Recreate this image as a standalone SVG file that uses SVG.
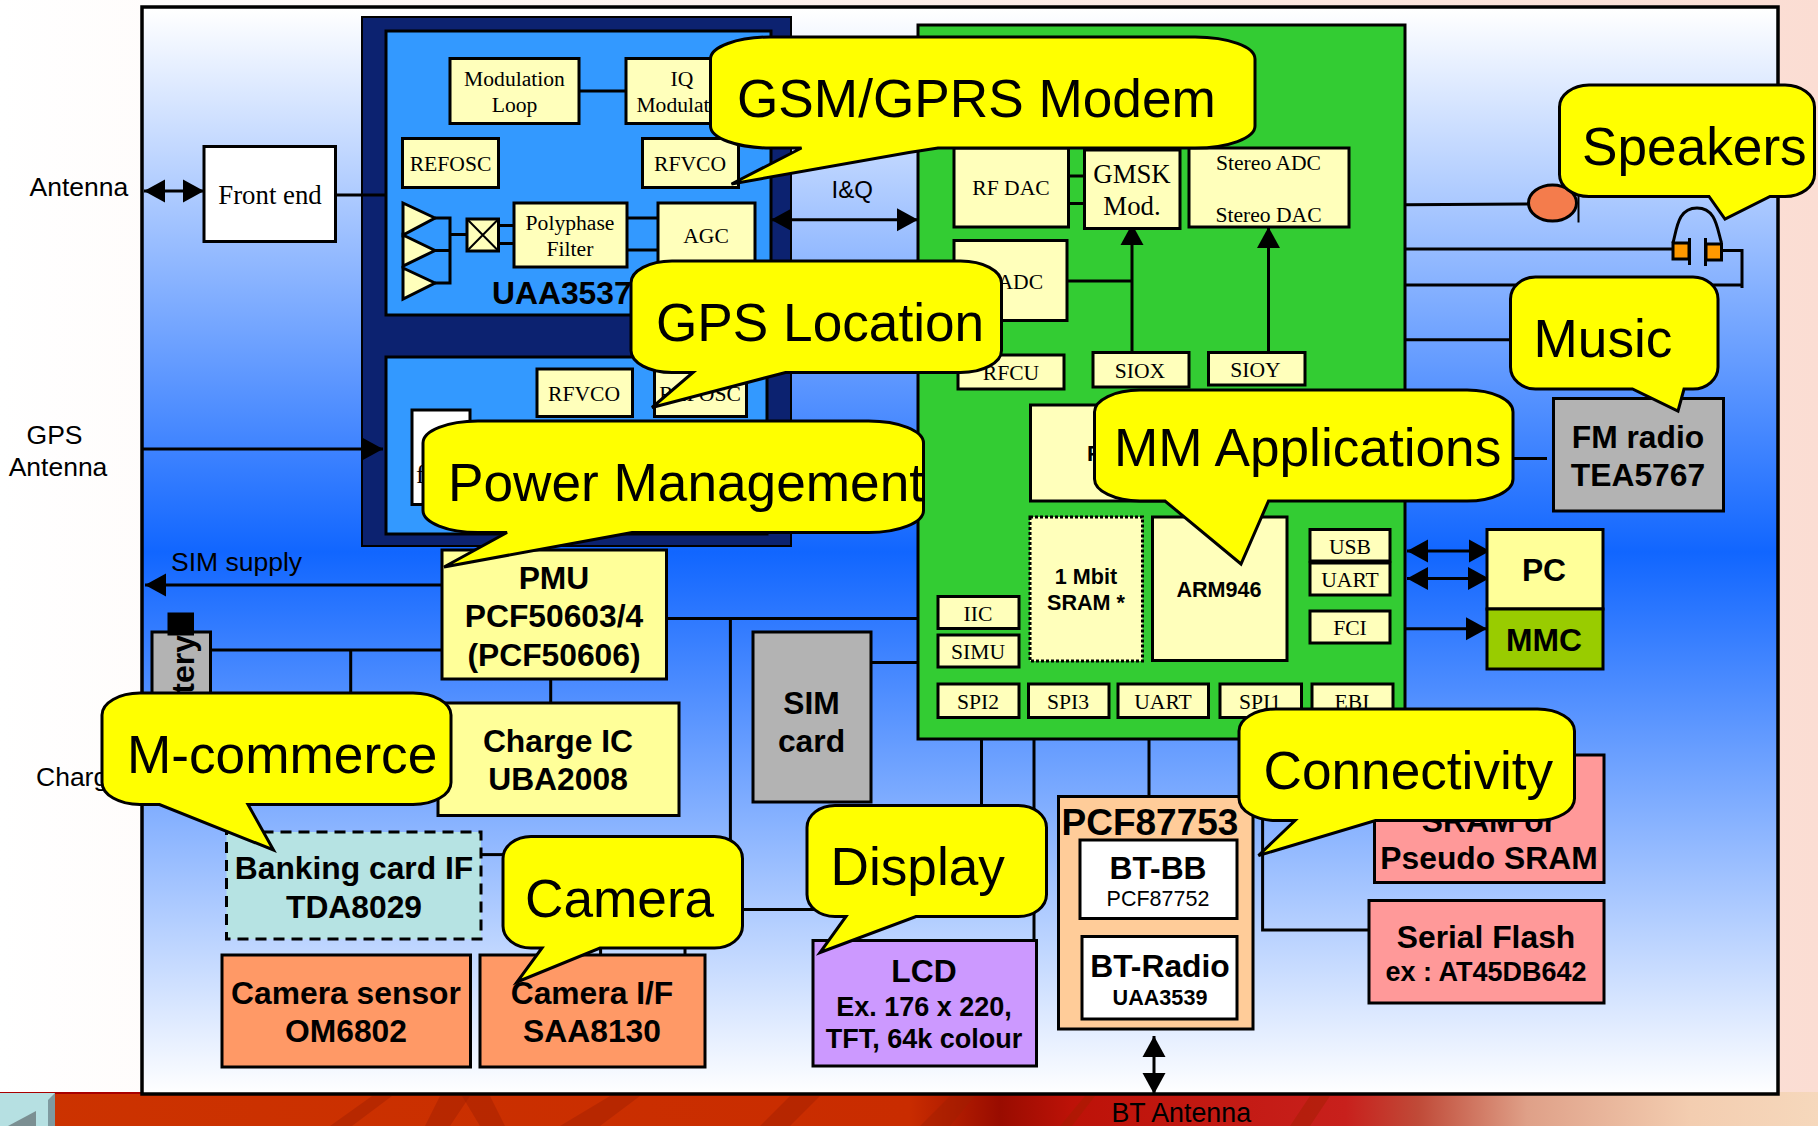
<svg xmlns="http://www.w3.org/2000/svg" width="1818" height="1126" viewBox="0 0 1818 1126">
<style>
.b{stroke:#000;stroke-width:3}
.cream{fill:#ffffbb}
.lem{fill:#ffff99}
.gr{fill:#b3b3b3}
.wh{fill:#fff}
.or{fill:#ff9966}
.pk{fill:#ff9999}
text{font-family:"Liberation Sans",Arial,sans-serif;fill:#000}
.t{font-family:"Liberation Serif","Times New Roman",serif;font-size:21.600px;text-anchor:middle}
.n{font-size:26.500px}
.h{font-weight:bold;font-size:31.800px;text-anchor:middle;transform:translateY(1px)}
.h2{font-weight:bold;font-size:27px;text-anchor:middle}
.h3{font-weight:bold;font-size:21.600px;text-anchor:middle}
.c{font-size:53.200px}
.bub{fill:#ffff00;stroke:#000;stroke-width:3}
#conn path,#conn line{fill:none;stroke:#000;stroke-width:3}
.ar{marker-end:url(#ah)}
.ar2{marker-end:url(#ah);marker-start:url(#ah)}
.st{fill:#a02000;opacity:.45}
</style>
<defs>
<marker id="ah" markerUnits="userSpaceOnUse" markerWidth="22" markerHeight="24" refX="21" refY="12" orient="auto-start-reverse"><polygon points="0,0.5 21,12 0,23.5" fill="#000"/></marker>
<linearGradient id="page" x1="0" y1="0" x2="1" y2="0"><stop offset="0" stop-color="#ffffff"/><stop offset="1" stop-color="#fbddd3"/></linearGradient>
<linearGradient id="fr" gradientUnits="userSpaceOnUse" x1="0" y1="10" x2="0" y2="1094"><stop offset="0" stop-color="#ffffff"/><stop offset="0.5" stop-color="#1166ff"/><stop offset="1" stop-color="#ffffff"/></linearGradient>
<linearGradient id="band" gradientUnits="userSpaceOnUse" x1="0" y1="0" x2="1818" y2="0"><stop offset="0" stop-color="#cc3300"/><stop offset="0.5" stop-color="#c92c00"/><stop offset="0.55" stop-color="#990c00"/><stop offset="0.59" stop-color="#bd1208"/><stop offset="0.74" stop-color="#c8201c"/><stop offset="0.78" stop-color="#c04a38"/><stop offset="0.84" stop-color="#dfa088"/><stop offset="0.93" stop-color="#f3cdb0"/><stop offset="1" stop-color="#f6d8bc"/></linearGradient>
</defs>

<g id="background">
<rect x="0" y="0" width="1818" height="1126" fill="url(#page)"/>
<rect x="0" y="1092" width="1818" height="34" fill="url(#band)"/>
<polygon class="st" points="330,1126 372,1096 392,1096 352,1126"/>
<polygon class="st" points="425,1126 440,1096 470,1096 450,1126"/>
<polygon class="st" points="480,1126 462,1096 490,1096 505,1126"/>
<polygon class="st" points="560,1126 610,1096 640,1096 600,1126"/>
<polygon class="st" points="760,1126 790,1096 820,1096 790,1126"/>
<polygon class="st" points="920,1126 950,1096 975,1096 950,1126"/>
<polygon class="st" points="1060,1126 1085,1096 1095,1096 1072,1126"/>
<polygon class="st" points="1290,1126 1310,1096 1330,1096 1310,1126"/>
<rect x="0" y="1092" width="142" height="2" fill="#a80000"/>
<rect x="0" y="1093" width="55" height="33" fill="#b6e0e2"/>
<polygon points="48,1100 55,1093 55,1126 48,1126" fill="#7e9aa0"/>
<polygon points="36,1111 8,1126 36,1126" fill="#7b8f92"/>
</g>
<rect id="frame" x="142" y="7" width="1636" height="1087" fill="url(#fr)" stroke="#000" stroke-width="3.500"/>

<g id="containers">
<rect id="rf-block" x="362" y="17" width="429" height="529" fill="#0c2270" stroke="#000" stroke-width="2"/>
<rect id="uaa-block" x="386" y="31" width="385" height="284" fill="#3399ff" class="b"/>
<rect id="gps-block" x="386" y="357" width="381" height="177" fill="#3399ff" class="b"/>
<rect id="baseband" x="918" y="25" width="487" height="714" fill="#33cc33" class="b"/>
</g>

<g id="conn">
<line x1="335" y1="195" x2="386" y2="195"/>
<line x1="579" y1="91" x2="626" y2="91"/>
<path d="M435 218H450V283H435M435 250.500H450M450 234.500H467"/>
<path d="M498 225.500H514M498 243.500H514M627 218H658M627 250H658"/>
<line class="ar2" x1="144" y1="191" x2="204" y2="191"/>
<line class="ar" x1="142" y1="449" x2="383" y2="449"/>
<line class="ar2" x1="771" y1="219.700" x2="918" y2="219.700"/>
<line x1="1068" y1="176" x2="1085" y2="176"/>
<line x1="1068" y1="203.500" x2="1085" y2="203.500"/>
<line class="ar" x1="1132" y1="352" x2="1132" y2="224"/>
<line class="ar" x1="1268.500" y1="352" x2="1268.500" y2="227"/>
<line x1="1067" y1="281" x2="1132" y2="281"/>
<line x1="1405" y1="204.700" x2="1530" y2="204"/>
<path d="M1405 249H1673M1722 250.500H1742V288M1405 285H1742"/>
<line x1="1405" y1="339.700" x2="1522" y2="339.700"/>
<line x1="1405" y1="458.500" x2="1547" y2="458.500"/>
<line class="ar2" x1="1407" y1="551" x2="1490" y2="551"/>
<line class="ar2" x1="1407" y1="578.400" x2="1489" y2="578.400"/>
<line class="ar" x1="1405" y1="628.700" x2="1487" y2="628.700"/>
<line class="ar" x1="442" y1="585" x2="145" y2="585"/>
<path d="M667 618.600H918M730.400 618.600V905M685 905V955M600.600 935V957"/>
<path d="M210 650H442M350.700 650V725"/>
<line x1="550.700" y1="679" x2="550.700" y2="703"/>
<line x1="481" y1="854.600" x2="510" y2="854.600"/>
<line x1="871" y1="662.500" x2="918" y2="662.500"/>
<line x1="735" y1="909.500" x2="820" y2="909.500"/>
<line x1="981.500" y1="739" x2="981.500" y2="815"/>
<line x1="1034" y1="739" x2="1034" y2="941"/>
<line x1="1149" y1="739" x2="1149" y2="797"/>
<line x1="1199" y1="918" x2="1199" y2="937"/>
<line class="ar2" x1="1154" y1="1036" x2="1154" y2="1094"/>
<path d="M1262.600 820V930H1369"/>
</g>

<g id="front-end"><rect class="b wh" x="204" y="146.500" width="131.500" height="95"/><text class="t" style="font-size:26.800px" x="270" y="204">Front end</text></g>
<text id="label-antenna" class="n" x="29.500" y="195.500">Antenna</text>
<text id="label-gps-antenna" class="n" text-anchor="middle"><tspan x="54.500" y="443.500">GPS</tspan><tspan x="58" y="476">Antenna</tspan></text>
<text id="label-iq" class="n" style="font-size:24px" x="831.500" y="197.500">I&amp;Q</text>
<text id="label-sim-supply" class="n" x="171" y="571">SIM supply</text>
<text id="label-charger" class="n" x="36" y="785.500">Charger</text>
<text id="label-bt-antenna" class="n" style="font-size:26.800px" x="1111.500" y="1122" fill="#200">BT Antenna</text>

<g id="mod-loop"><rect class="b cream" x="450" y="58.500" width="129" height="65"/><text class="t"><tspan x="514.500" y="86">Modulation</tspan><tspan x="514.500" y="112">Loop</tspan></text></g>
<g id="iq-mod"><rect class="b cream" x="626" y="58.500" width="112" height="65"/><text class="t"><tspan x="682" y="86">IQ</tspan><tspan x="682" y="112">Modulator</tspan></text></g>
<g id="refosc1"><rect class="b cream" x="402.500" y="138.500" width="96" height="49"/><text class="t" x="450.500" y="171">REFOSC</text></g>
<g id="rfvco1"><rect class="b cream" x="642.500" y="138.500" width="96" height="49"/><text class="t" x="690" y="171">RFVCO</text></g>
<g id="amps">
<polygon class="b cream" points="403,203 435,218 403,235"/>
<polygon class="b cream" points="403,235 435,250.500 403,266"/>
<polygon class="b cream" points="403,268 435,283 403,299"/>
</g>
<g id="mixer"><rect class="b cream" x="467" y="219" width="31.500" height="32"/><path d="M467 219L498.500 251M498.500 219L467 251" stroke="#000" stroke-width="2" fill="none"/></g>
<g id="polyphase"><rect class="b cream" x="514" y="203" width="113" height="64"/><text class="t"><tspan x="570" y="230">Polyphase</tspan><tspan x="570" y="255.500">Filter</tspan></text></g>
<g id="agc"><rect class="b cream" x="658" y="203" width="97" height="65"/><text class="t" x="706" y="243">AGC</text></g>
<text id="uaa3537" x="492" y="304" font-weight="bold" font-size="31.800">UAA3537</text>

<g id="rfvco2"><rect class="b cream" x="537" y="369" width="95.500" height="47.500"/><text class="t" x="584" y="400.500">RFVCO</text></g>
<g id="refosc2"><rect class="b cream" x="654.500" y="369" width="92" height="47.500"/><text class="t" x="700" y="400.500">REFOSC</text></g>
<g id="gps-front"><rect class="b wh" x="412" y="410" width="58" height="94.500"/><text class="t" style="font-size:26px;text-anchor:start" x="416" y="483">f</text></g>

<g id="rf-dac"><rect class="b cream" x="954" y="148" width="114.500" height="79"/><text class="t" x="1011" y="195">RF DAC</text></g>
<g id="gmsk"><rect class="b cream" x="1084.500" y="150" width="95.500" height="78.500"/><text class="t" style="font-size:26.800px"><tspan x="1132" y="183">GMSK</tspan><tspan x="1132" y="214.500">Mod.</tspan></text></g>
<g id="stereo"><rect class="b cream" x="1189" y="148" width="160" height="79"/><text class="t"><tspan x="1268.500" y="170">Stereo ADC</tspan><tspan x="1268.500" y="222">Stereo DAC</tspan></text></g>
<g id="rf-adc"><rect class="b cream" x="954" y="240.500" width="113" height="80"/><text class="t" x="1005" y="289">RF ADC</text></g>
<g id="rfcu"><rect class="b cream" x="958" y="355" width="106" height="34"/><text class="t" x="1011" y="380">RFCU</text></g>
<g id="siox"><rect class="b cream" x="1093" y="352.500" width="96" height="34.500"/><text class="t" x="1140" y="377.500">SIOX</text></g>
<g id="sioy"><rect class="b cream" x="1208.500" y="352.500" width="96.500" height="32.500"/><text class="t" x="1255.500" y="377">SIOY</text></g>
<g id="ram"><rect class="b cream" x="1030.500" y="405" width="170" height="96"/><text x="1087" y="461" font-weight="bold" font-size="22" fill="#222">F</text></g>
<g id="sram"><rect class="cream" x="1030" y="517" width="112.500" height="144" stroke="#000" stroke-width="3" stroke-dasharray="3 2"/><text class="h3"><tspan x="1086" y="583.500">1 Mbit</tspan><tspan x="1086" y="609.500">SRAM *</tspan></text></g>
<g id="arm"><rect class="b cream" x="1152.500" y="517" width="134.500" height="143.500"/><text class="h3" x="1219" y="597">ARM946</text></g>
<g id="usb"><rect class="b cream" x="1310" y="529.500" width="80" height="31.500"/><text class="t" x="1350" y="554">USB</text></g>
<g id="uart1"><rect class="b cream" x="1310" y="563" width="80" height="32"/><text class="t" x="1350" y="586.500">UART</text></g>
<g id="fci"><rect class="b cream" x="1310" y="611" width="80" height="32"/><text class="t" x="1350" y="635">FCI</text></g>
<g id="iic"><rect class="b cream" x="938" y="596.500" width="81" height="32"/><text class="t" x="978" y="621">IIC</text></g>
<g id="simu"><rect class="b cream" x="938" y="635" width="81" height="32"/><text class="t" x="978" y="658.500">SIMU</text></g>
<g id="spi2"><rect class="b cream" x="938" y="684" width="81" height="33.500"/><text class="t" x="978" y="709">SPI2</text></g>
<g id="spi3"><rect class="b cream" x="1028.500" y="684" width="80.500" height="33.500"/><text class="t" x="1068" y="709">SPI3</text></g>
<g id="uart2"><rect class="b cream" x="1118" y="684" width="90.500" height="33.500"/><text class="t" x="1163" y="709">UART</text></g>
<g id="spi1"><rect class="b cream" x="1220" y="684" width="81.500" height="33.500"/><text class="t" x="1260" y="709">SPI1</text></g>
<g id="ebi"><rect class="b cream" x="1312" y="684" width="81" height="33.500"/><text class="t" x="1352" y="709">EBI</text></g>

<g id="speaker"><ellipse cx="1552.500" cy="203" rx="24" ry="18" fill="#f47c4c" stroke="#000" stroke-width="3"/><line x1="1578.500" y1="190" x2="1578.500" y2="222.500" stroke="#000" stroke-width="2"/></g>
<g id="headphones">
<path d="M1673 243C1677 228 1678 208 1697 208C1716 208 1717 228 1721.500 243" fill="none" stroke="#000" stroke-width="3"/>
<rect x="1673" y="243" width="16" height="16" fill="#ff9900" stroke="#000" stroke-width="3"/>
<rect x="1706" y="244" width="15.500" height="16" fill="#ff9900" stroke="#000" stroke-width="3"/>
<path d="M1689.500 238V265M1705.500 238V266" stroke="#000" stroke-width="3" fill="none"/>
</g>
<g id="fm-radio"><rect class="b gr" x="1553.500" y="398.500" width="170" height="112.500"/><text class="h"><tspan x="1638" y="447">FM radio</tspan><tspan x="1638" y="485">TEA5767</tspan></text></g>
<g id="pc"><rect class="b lem" x="1487" y="529.500" width="116" height="79.500"/><text class="h" x="1544" y="580">PC</text></g>
<g id="mmc"><rect class="b" fill="#99cc00" x="1487" y="609" width="116" height="60"/><text class="h" x="1544" y="650">MMC</text></g>
<g id="battery"><rect class="b gr" x="152" y="632" width="58.500" height="90"/><text transform="translate(194,635) rotate(-90)" font-weight="bold" font-size="32" text-anchor="end">Battery</text><rect x="167.500" y="612.500" width="26.500" height="23" fill="#000"/></g>
<g id="pmu"><rect class="b lem" x="442" y="550" width="224.500" height="129"/><text class="h"><tspan x="554" y="587.500">PMU</tspan><tspan x="554" y="626">PCF50603/4</tspan><tspan x="554" y="664.500">(PCF50606)</tspan></text></g>
<g id="charge-ic"><rect class="b lem" x="438" y="703" width="241" height="112.500"/><text class="h"><tspan x="558" y="751">Charge IC</tspan><tspan x="558" y="789">UBA2008</tspan></text></g>
<g id="sim-card"><rect class="b gr" x="753" y="632" width="118" height="170"/><text class="h"><tspan x="811.500" y="713">SIM</tspan><tspan x="811.500" y="751">card</tspan></text></g>
<g id="banking"><rect fill="#b6e3e3" stroke="#000" stroke-width="3" stroke-dasharray="11 7" x="226.500" y="832" width="254.500" height="107"/><text class="h"><tspan x="354" y="878">Banking card IF</tspan><tspan x="354" y="917">TDA8029</tspan></text></g>
<g id="camera-sensor"><rect class="b or" x="222" y="955" width="248.500" height="112"/><text class="h"><tspan x="346" y="1003">Camera sensor</tspan><tspan x="346" y="1041">OM6802</tspan></text></g>
<g id="camera-if"><rect class="b or" x="480" y="955" width="225" height="112"/><text class="h"><tspan x="592" y="1003">Camera I/F</tspan><tspan x="592" y="1041">SAA8130</tspan></text></g>
<g id="lcd"><rect class="b" fill="#cc99ff" x="813" y="940.500" width="223.500" height="125.500"/><text class="h" x="924" y="981">LCD</text><text class="h2"><tspan x="924" y="1015.500">Ex. 176 x 220,</tspan><tspan x="924" y="1048">TFT, 64k colour</tspan></text></g>
<g id="pcf87753"><rect class="b" fill="#ffcc99" x="1058.500" y="796.500" width="194.500" height="232.500"/><text x="1150" y="835" font-weight="bold" font-size="37" text-anchor="middle">PCF87753</text></g>
<g id="bt-bb"><rect class="b wh" x="1080" y="840" width="157" height="78.500"/><text class="h" x="1158" y="878">BT-BB</text><text x="1158" y="906" font-size="21.500" text-anchor="middle">PCF87752</text></g>
<g id="bt-radio"><rect class="b wh" x="1082" y="936.500" width="155" height="82.500"/><text class="h" x="1160" y="976">BT-Radio</text><text class="h3" x="1160" y="1004.500">UAA3539</text></g>
<g id="flash"><rect class="b pk" x="1374.500" y="755" width="229.500" height="127.500"/><text class="h"><tspan x="1489" y="792">FLASH</tspan><tspan x="1489" y="830.500">SRAM or</tspan><tspan x="1489" y="868">Pseudo SRAM</tspan></text></g>
<g id="serial-flash"><rect class="b pk" x="1369" y="900.500" width="235" height="102.500"/><text class="h" x="1486" y="947">Serial Flash</text><text class="h2" x="1486" y="980.500">ex : AT45DB642</text></g>

<g id="callouts">
<g id="c-gsm"><path class="bub" d="M770 37H1195A60 22 0 0 1 1255 59V126A60 22 0 0 1 1195 148H938L909 152.500L731.500 184L801.500 148H770A60 22 0 0 1 710.500 126V59A60 22 0 0 1 770 37Z"/><text class="c" x="737" y="116.500">GSM/GPRS Modem</text></g>
<g id="c-gps"><path class="bub" d="M672 261H960A41 22 0 0 1 1001.500 283V350.500A41 22 0 0 1 960 372.500H785.500L652 407.500L693 372.500H672A41 22 0 0 1 631 350.500V283A41 22 0 0 1 672 261Z"/><text class="c" x="656" y="340.500">GPS Location</text></g>
<g id="c-power"><path class="bub" d="M478 421H868A55 22 0 0 1 923.500 443V510.500A55 22 0 0 1 868 532.500H632L444 567L507 532.500H478A55 22 0 0 1 423 510.500V443A55 22 0 0 1 478 421Z"/><text class="c" x="448" y="501">Power Management</text></g>
<g id="c-mm"><path class="bub" d="M1140 390H1467A46 22 0 0 1 1513 412V479A46 22 0 0 1 1467 501H1268.500L1241 564L1165 501H1140A46 22 0 0 1 1094.500 479V412A46 22 0 0 1 1140 390Z"/><text class="c" x="1114" y="466">MM Applications</text></g>
<g id="c-speakers"><path class="bub" d="M1589 85H1785A30 22 0 0 1 1814.500 107V174.500A30 22 0 0 1 1785 196.500H1770L1725 219L1709 196.500H1589A30 22 0 0 1 1559.500 174.500V107A30 22 0 0 1 1589 85Z"/><text class="c" x="1582" y="164.500">Speakers</text></g>
<g id="c-music"><path class="bub" d="M1536 277H1693A25 22 0 0 1 1718 299V367A25 22 0 0 1 1693 389H1684L1678 411L1632.500 389H1536A25 22 0 0 1 1510.500 367V299A25 22 0 0 1 1536 277Z"/><text class="c" x="1533.500" y="356.500">Music</text></g>
<g id="c-mcommerce"><path class="bub" d="M140 693H413A38 22 0 0 1 451 715V782.500A38 22 0 0 1 413 804.500H248L273.500 850L159.500 804.500H140A38 22 0 0 1 102 782.500V715A38 22 0 0 1 140 693Z"/><text class="c" x="127" y="773">M-commerce</text></g>
<g id="c-camera"><path class="bub" d="M531 836.500H714.500A28 22 0 0 1 742.500 858.500V926A28 22 0 0 1 714.500 948H600L517 982L542 948H531A28 22 0 0 1 503 926V858.500A28 22 0 0 1 531 836.500Z"/><text class="c" x="525" y="917">Camera</text></g>
<g id="c-display"><path class="bub" d="M835 805.500H1018.500A28 22 0 0 1 1046.500 827.500V894.500A28 22 0 0 1 1018.500 916.500H916L820 952.500L846 916.500H835A28 22 0 0 1 807 894.500V827.500A28 22 0 0 1 835 805.500Z"/><text class="c" x="830.500" y="885">Display</text></g>
<g id="c-connectivity"><path class="bub" d="M1276 709H1537.500A37 22 0 0 1 1574.500 731V798.500A37 22 0 0 1 1537.500 820.500H1375.500L1258.500 855.500L1295 820.500H1276A37 22 0 0 1 1239 798.500V731A37 22 0 0 1 1276 709Z"/><text class="c" x="1263.500" y="789">Connectivity</text></g>
</g>
</svg>
